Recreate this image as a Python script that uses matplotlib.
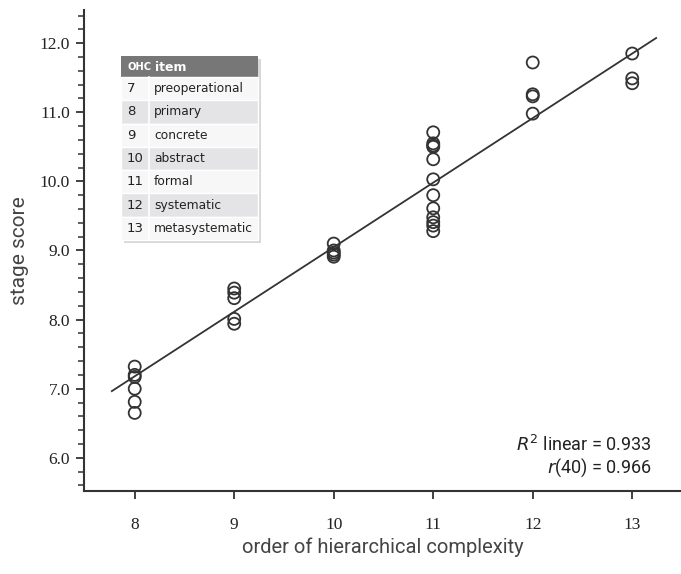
import numpy as np
import matplotlib
matplotlib.use('Agg')
import matplotlib.pyplot as plt
from matplotlib.patches import Rectangle
from matplotlib.ticker import MultipleLocator

# Data
ohc_order = [8] * 6 + [9] * 5 + [10] * 5 + [11] * 12 + [12] * 4 + [13] * 3
stage_score = [7.32, 7.20, 7.17, 7.00, 6.81, 6.65,
               8.45, 8.39, 8.31, 8.01, 7.94,
               9.10, 9.00, 8.97, 8.94, 8.91,
               10.71, 10.55, 10.52, 10.50, 10.32, 10.03, 9.80, 9.61, 9.48, 9.41, 9.36, 9.28,
               11.72, 11.26, 11.23, 10.98,
               11.85, 11.49, 11.42]

fit_slope = 0.934
fit_intercept = -0.292
fit_range = [7.77, 13.24]

x_ticks = [8, 9, 10, 11, 12, 13]
y_ticks = [6.0, 7.0, 8.0, 9.0, 10.0, 11.0, 12.0]

table_nums = ['7', '8', '9', '10', '11', '12', '13']
table_names = ['preoperational', 'primary', 'concrete', 'abstract',
               'formal', 'systematic', 'metasystematic']

label_font = ['Roboto', 'DejaVu Sans']
tick_font = ['Liberation Serif', 'DejaVu Serif']

fig = plt.figure(figsize=(6.81, 5.74), dpi=100)
ax = fig.add_axes([0.1233, 0.1446, 0.8767, 0.838])

# regression line
fx = np.array(fit_range)
ax.plot(fx, fit_intercept + fit_slope * fx, color='#333333', lw=1.3, zorder=2)

# points
ax.scatter(ohc_order, stage_score, s=75, facecolors='none',
           edgecolors='#333333', linewidths=1.3, zorder=3)

ax.set_xlim(7.49, 13.49)
ax.set_ylim(5.52, 12.48)
ax.set_xticks(x_ticks)
ax.set_yticks(y_ticks)
ax.yaxis.set_minor_locator(MultipleLocator(0.2))
ax.set_xticklabels([str(v) for v in x_ticks], family=tick_font, fontsize=12.5, color='#222222')
ax.set_yticklabels([f'{v:.1f}' for v in y_ticks], family=tick_font, fontsize=12.5, color='#222222')
ax.tick_params(axis='both', which='major', direction='out', length=6, width=1.3, color='#333333')
ax.tick_params(axis='y', which='minor', direction='out', length=4, width=1.1, color='#333333')
ax.tick_params(axis='x', pad=13)
ax.tick_params(axis='y', pad=4)

for s in ['top', 'right']:
    ax.spines[s].set_visible(False)
for s in ['left', 'bottom']:
    ax.spines[s].set_linewidth(1.5)
    ax.spines[s].set_color('#333333')

ax.set_xlabel('order of hierarchical complexity', family=label_font,
              fontsize=14.5, color='#444444', labelpad=3)
ax.set_ylabel('stage score', family=label_font, fontsize=15,
              color='#444444', labelpad=8)

ax.text(0.951, 0.0956, r'$R^2$ linear = 0.933', transform=ax.transAxes,
        ha='right', va='center', fontsize=13, color='#222222', family=label_font)
ax.text(0.951, 0.0479, r'$r$(40) = 0.966', transform=ax.transAxes,
        ha='right', va='center', fontsize=13, color='#222222', family=label_font)

# table inset
tax = fig.add_axes([0.1777, 0.5819, 0.2012, 0.3206])
tax.set_xlim(0, 137)
tax.set_ylim(184, 0)
tax.axis('off')
# shadow
tax.add_patch(Rectangle((3, 3), 137, 184, facecolor='#b0b0b0', edgecolor='none',
                        alpha=0.5, clip_on=False, zorder=0))
header_h = 21
row_h = (184 - header_h) / len(table_nums)
tax.add_patch(Rectangle((0, 0), 137, header_h, facecolor='#777777',
                        edgecolor='none', clip_on=False, zorder=1))
tax.text(6, header_h / 2 + 1, 'OHC', fontsize=7.2, fontweight='bold',
         color='white', va='center', family='DejaVu Sans')
tax.text(34, header_h / 2 + 1, 'item', fontsize=9, fontweight='bold',
         color='white', va='center', family='DejaVu Sans')
for i, (num, name) in enumerate(zip(table_nums, table_names)):
    y0 = header_h + i * row_h
    fc = '#f7f7f7' if i % 2 == 0 else '#e4e4e6'
    tax.add_patch(Rectangle((0, y0), 137, row_h, facecolor=fc,
                            edgecolor='white', lw=1.0, clip_on=False, zorder=1))
    tax.text(6, y0 + row_h / 2, num, fontsize=9.5, color='#222222',
             va='center', family='DejaVu Sans')
    tax.text(33, y0 + row_h / 2, name, fontsize=8.8, color='#222222',
             va='center', family='DejaVu Sans')
tax.plot([28, 28], [header_h, 184], color='white', lw=1.2, zorder=2)

plt.savefig('out.png', dpi=100)
